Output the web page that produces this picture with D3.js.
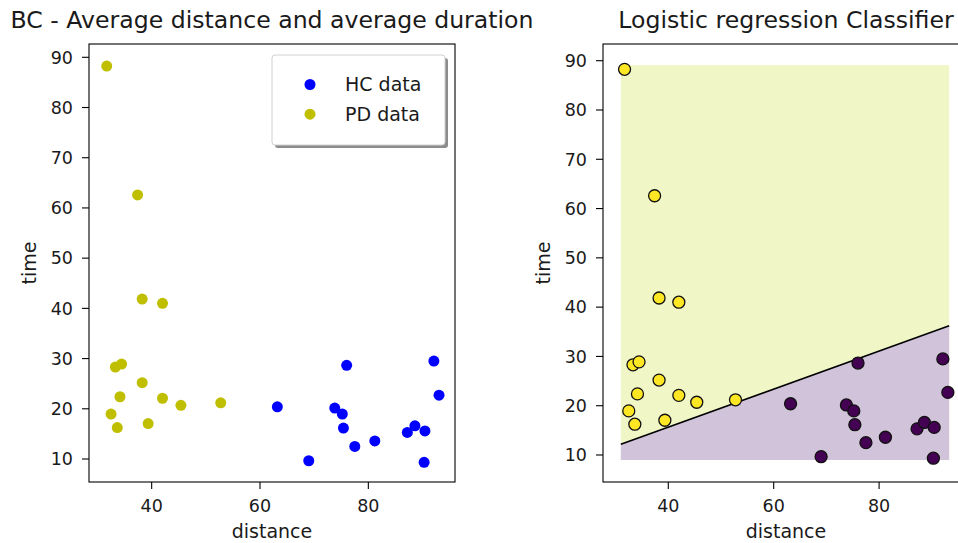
<!DOCTYPE html>
<html>
<head>
<meta charset="utf-8">
<script src="https://cdn.jsdelivr.net/npm/d3@7"></script>
<style>
  html, body { margin: 0; padding: 0; background: #fff; }
  svg { display: block; font-family: "DejaVu Sans", sans-serif; }
  text { fill: #1a1a1a; }
</style>
</head>
<body>
<svg id="chart" width="958" height="543"></svg>
<script>
// Healthy-control (HC) recordings: average distance and average duration
const hcDistance = [63.2, 76.0, 92.1, 93.05, 73.8, 75.2, 75.4, 69.0, 77.5, 81.2, 87.2, 88.6, 90.45, 90.3];
const hcTime     = [20.4, 28.65, 29.5, 22.7, 20.15, 18.95, 16.15, 9.65, 12.5, 13.6, 15.3, 16.6, 15.6, 9.35];

// Parkinson's (PD) recordings
const pdDistance = [31.7, 37.4, 38.25, 42.0, 33.3, 34.45, 38.25, 34.15, 42.0, 45.4, 52.75, 32.5, 33.65, 39.35];
const pdTime     = [88.25, 62.6, 41.85, 41.0, 28.3, 28.9, 25.2, 22.4, 22.1, 20.7, 21.2, 18.95, 16.25, 17.05];

// Grid extent used for the classifier's decision surface, and the fitted boundary
const meshDistance = [31.0, 93.3];
const meshTime     = [9.0, 89.1];
const boundaryDistance = [31.0, 93.3];
const boundaryTime     = [12.17, 36.23];

const tickValues = [10, 20, 30, 40, 50, 60, 70, 80, 90];
const xTickValues = [40, 60, 80];
const legendLabels = ["HC data", "PD data"];

const svg = d3.select("#chart");

const W = 366, H = 438;
const tickFont = "17.5px", labelFont = "19px", titleFont = "23.6px";

function drawAxes(g, x, y, title) {
  const ya = g.append("g");
  tickValues.forEach(v => {
    ya.append("line").attr("x1", -7).attr("x2", 0)
      .attr("y1", y(v)).attr("y2", y(v)).attr("stroke", "#000").attr("stroke-width", 1.1);
    ya.append("text").attr("x", -16).attr("y", y(v)).attr("dy", "0.36em")
      .attr("text-anchor", "end").style("font-size", tickFont).text(v);
  });
  const xa = g.append("g");
  xTickValues.forEach(v => {
    xa.append("line").attr("x1", x(v)).attr("x2", x(v))
      .attr("y1", H).attr("y2", H + 7).attr("stroke", "#000").attr("stroke-width", 1.1);
    xa.append("text").attr("x", x(v)).attr("y", H + 30)
      .attr("text-anchor", "middle").style("font-size", tickFont).text(v);
  });
  g.append("rect").attr("x", 0).attr("y", 0).attr("width", W).attr("height", H)
    .attr("fill", "none").attr("stroke", "#000").attr("stroke-width", 1.1);
  g.append("text").attr("x", W / 2).attr("y", H + 56)
    .attr("text-anchor", "middle").style("font-size", labelFont).text("distance");
  g.append("text").attr("transform", `translate(-53,${H / 2}) rotate(-90)`)
    .attr("text-anchor", "middle").style("font-size", labelFont).text("time");
  g.append("text").attr("x", W / 2).attr("y", -16)
    .attr("text-anchor", "middle").style("font-size", titleFont).text(title);
}

// ---------- Left panel: raw scatter ----------
const g1 = svg.append("g").attr("transform", "translate(89,44)");
const x1 = d3.scaleLinear().domain([28.43, 96.0]).range([0, W]);
const y1 = d3.scaleLinear().domain([5.42, 92.65]).range([H, 0]);

const hc = hcDistance.map((d, i) => ({ d, t: hcTime[i] }));
const pd = pdDistance.map((d, i) => ({ d, t: pdTime[i] }));

g1.append("g").selectAll("circle").data(hc).join("circle")
  .attr("cx", p => x1(p.d)).attr("cy", p => y1(p.t)).attr("r", 5.5).attr("fill", "#0000ff");
g1.append("g").selectAll("circle").data(pd).join("circle")
  .attr("cx", p => x1(p.d)).attr("cy", p => y1(p.t)).attr("r", 5.5).attr("fill", "#bfbf00");

drawAxes(g1, x1, y1, "BC - Average distance and average duration");

// legend with drop shadow
const lg = g1.append("g").attr("transform", "translate(183,11)");
lg.append("rect").attr("x", 3).attr("y", 3).attr("width", 173).attr("height", 90)
  .attr("rx", 3).attr("fill", "#8c8c8c");
lg.append("rect").attr("x", 0).attr("y", 0).attr("width", 173).attr("height", 90)
  .attr("rx", 3).attr("fill", "#fff").attr("stroke", "#d0d0d0").attr("stroke-width", 1);
const legendColors = ["#0000ff", "#bfbf00"];
legendLabels.forEach((lab, i) => {
  const cy = 29.5 + i * 29.7;
  lg.append("circle").attr("cx", 38).attr("cy", cy).attr("r", 5.5).attr("fill", legendColors[i]);
  lg.append("text").attr("x", 73).attr("y", cy).attr("dy", "0.36em")
    .style("font-size", labelFont).text(lab);
});

// ---------- Right panel: logistic regression decision surface ----------
const g2 = svg.append("g").attr("transform", "translate(603,44)");
const x2 = d3.scaleLinear().domain([27.61, 97.06]).range([0, W]);
const y2 = d3.scaleLinear().domain([4.52, 93.39]).range([H, 0]);

// PD region (above boundary) fills the whole grid, HC region drawn over it
g2.append("rect")
  .attr("x", x2(meshDistance[0])).attr("y", y2(meshTime[1]))
  .attr("width", x2(meshDistance[1]) - x2(meshDistance[0]))
  .attr("height", y2(meshTime[0]) - y2(meshTime[1]))
  .attr("fill", "#f1f6c6");
const hcRegion = [
  [boundaryDistance[0], boundaryTime[0]],
  [boundaryDistance[1], boundaryTime[1]],
  [meshDistance[1], meshTime[0]],
  [meshDistance[0], meshTime[0]]
];
g2.append("path")
  .attr("d", d3.line().x(p => x2(p[0])).y(p => y2(p[1]))(hcRegion) + "Z")
  .attr("fill", "#d1c4da");
g2.append("path")
  .attr("d", d3.line().x(p => x2(p[0])).y(p => y2(p[1]))(
    boundaryDistance.map((d, i) => [d, boundaryTime[i]])))
  .attr("stroke", "#000").attr("stroke-width", 1.6).attr("fill", "none");

g2.append("g").selectAll("circle").data(hc).join("circle")
  .attr("cx", p => x2(p.d)).attr("cy", p => y2(p.t)).attr("r", 6)
  .attr("fill", "#440154").attr("stroke", "#111").attr("stroke-width", 1.3);
g2.append("g").selectAll("circle").data(pd).join("circle")
  .attr("cx", p => x2(p.d)).attr("cy", p => y2(p.t)).attr("r", 6)
  .attr("fill", "#fde725").attr("stroke", "#111").attr("stroke-width", 1.3);

drawAxes(g2, x2, y2, "Logistic regression Classifier");
</script>
</body>
</html>
